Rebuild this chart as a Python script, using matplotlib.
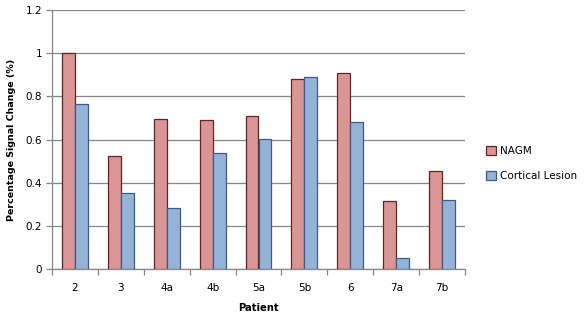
import matplotlib
matplotlib.use("Agg")
import matplotlib.pyplot as plt
import numpy as np

patients = ["2", "3", "4a", "4b", "5a", "5b", "6", "7a", "7b"]
nagm = [1.00, 0.525, 0.696, 0.690, 0.708, 0.880, 0.907, 0.315, 0.454]
cortical = [0.764, 0.352, 0.282, 0.537, 0.602, 0.889, 0.681, 0.051, 0.319]
yticks = [0, 0.2, 0.4, 0.6, 0.8, 1.0, 1.2]
ytick_labels = ["0", "0.2", "0.4", "0.6", "0.8", "1", "1.2"]

plt.rcParams['font.family'] = ['DejaVu Sans']
fig = plt.figure(figsize=(5.85, 3.18), dpi=100)
ax = fig.add_axes([52/585, 1-269.3/318, (465-52)/585, (269.3-10)/318])

x = np.arange(len(patients))
w = 0.283
grid_c = "#868686"
ax.bar(x - w/2, nagm, w, color="#D99694", edgecolor="#632523", linewidth=0.9, label="NAGM", zorder=3)
ax.bar(x + w/2, cortical, w, color="#95B3D7", edgecolor="#385D8A", linewidth=0.9, label="Cortical Lesion", zorder=3)

ax.set_xlim(-0.5, len(patients) - 0.5)
ax.set_ylim(0, 1.2)
ax.set_yticks(yticks)
ax.set_yticklabels(ytick_labels)
ax.yaxis.grid(True, color=grid_c, linewidth=0.9, zorder=0)
ax.set_axisbelow(True)
for s in ["top", "right"]:
    ax.spines[s].set_visible(False)
for s in ["left", "bottom"]:
    ax.spines[s].set_color(grid_c)
    ax.spines[s].set_linewidth(0.9)

ax.set_xticks(x)
ax.set_xticklabels(patients)
ax.tick_params(axis="x", which="major", length=0, pad=10, labelsize=7.5)
ax.set_xticks(np.arange(len(patients) + 1) - 0.5, minor=True)
ax.tick_params(axis="x", which="minor", length=4, color=grid_c, width=0.9)
ax.tick_params(axis="y", length=4, color=grid_c, width=0.9, labelsize=7.5, pad=3)

ax.set_xlabel("Patient", fontsize=7.2, fontweight="bold", labelpad=7)
ax.set_ylabel("Percentage Signal Change (%)", fontsize=6.8, fontweight="bold", labelpad=7)

leg = fig.legend(loc="upper left", bbox_to_anchor=(482/585, 1-142/318), frameon=False,
                 fontsize=7.5, handlelength=0.9, handleheight=0.9, handletextpad=0.4,
                 labelspacing=1.45, borderaxespad=0)

fig.savefig("out.png", dpi=100)
